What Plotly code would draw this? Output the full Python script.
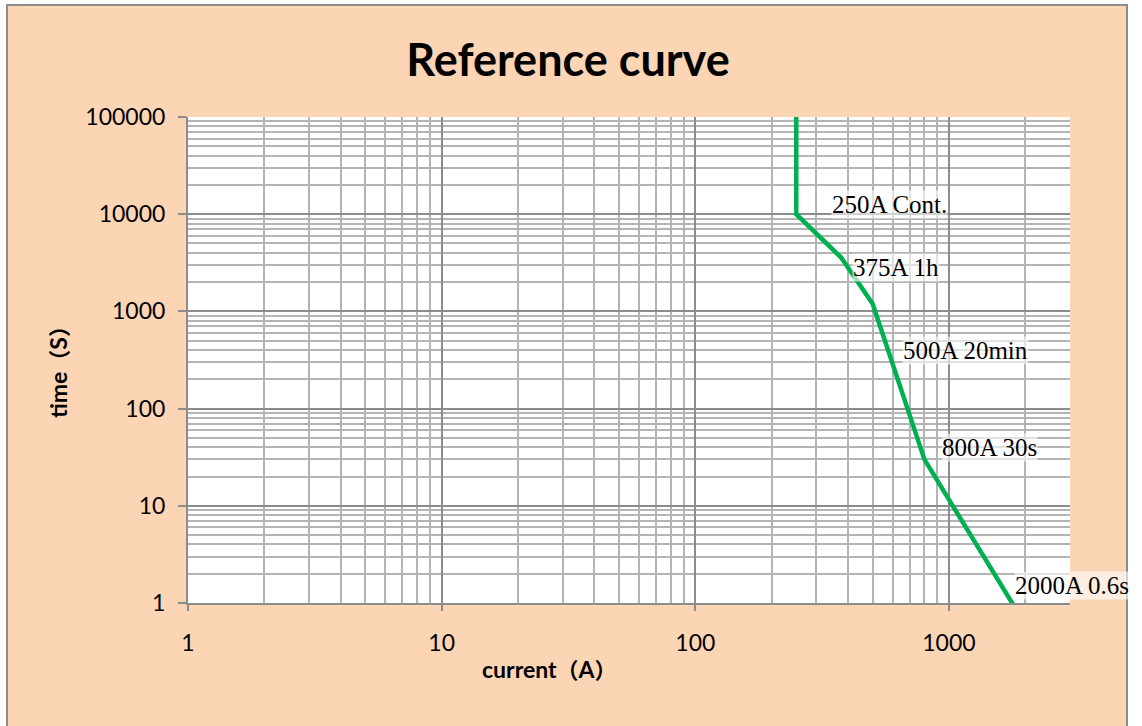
import plotly.graph_objects as go
import math

# ---- data ----
current_A = [250, 250, 375, 500, 800, 2000]
time_s = [100000, 10000, 3600, 1200, 30, 0.6]

label_texts = ["250A Cont.", "375A 1h", "500A 20min", "800A 30s", "2000A 0.6s"]
label_x = [343, 415, 653, 930, 1803]
label_y = [12700, 2800, 400, 40, 1.53]

x_ticks = [1, 10, 100, 1000]
y_ticks = [1, 10, 100, 1000, 10000, 100000]

PEACH = "#FCD5B5"
GRID_MINOR = "#B4B4B4"
GRID_MAJOR = "#8C8C8C"

fig = go.Figure()
fig.add_trace(go.Scatter(
    x=current_A, y=time_s, mode="lines",
    line=dict(color="#00B050", width=4.5),
    showlegend=False, hoverinfo="x+y"))

tickfont = dict(family="Lato", size=23, color="#000000")

fig.update_xaxes(
    type="log", range=[0, math.log10(3000)],
    tickvals=x_ticks, ticktext=[str(v) for v in x_ticks],
    showgrid=True, gridcolor=GRID_MAJOR, gridwidth=1.5,
    minor=dict(dtick="D1", showgrid=True, gridcolor=GRID_MINOR, gridwidth=1.5, ticks=""),
    showline=True, linecolor="#8C8C8C", linewidth=2, mirror=False,
    ticks="outside", ticklen=6, tickcolor="#8C8C8C", tickwidth=2,
    tickfont=tickfont, ticklabelstandoff=12, zeroline=False)
fig.update_yaxes(
    type="log", range=[0, 5],
    tickvals=y_ticks, ticktext=[str(v) for v in y_ticks],
    showgrid=True, gridcolor=GRID_MAJOR, gridwidth=1.5,
    minor=dict(dtick="D1", showgrid=True, gridcolor=GRID_MINOR, gridwidth=1.5, ticks=""),
    showline=True, linecolor="#8C8C8C", linewidth=2, mirror=False,
    ticks="outside", ticklen=8, tickcolor="#8C8C8C", tickwidth=2,
    tickfont=tickfont, ticklabelstandoff=8, zeroline=False)

annotations = []
for t, xv, yv in zip(label_texts, label_x, label_y):
    annotations.append(dict(
        x=math.log10(xv), y=math.log10(yv), xref="x", yref="y",
        text=t, showarrow=False, xanchor="left", yanchor="middle",
        font=dict(family="Liberation Serif", size=25, color="#000000"),
        bgcolor="rgba(255,255,255,0.6)", borderpad=0))

L, R, T, B = 188, 72, 117, 123
W, H = 1142, 726
pw, ph = W - L - R, H - T - B

def px_to_paper(xp, yp):
    return (xp - L) / pw, ((H - yp) - B) / ph

def cjk(s):
    return '<span style="font-family:\'Noto Sans CJK SC\';font-size:22px">' + s + '</span>'

axfont = dict(family="Lato", size=23, color="#000000")
ax_x, ax_y = px_to_paper(549, 668)
annotations.append(dict(
    x=ax_x, y=ax_y, xref="paper", yref="paper",
    text="<b>current" + cjk("（") + "A" + cjk("）") + "</b>",
    xanchor="center", yanchor="middle", showarrow=False, font=axfont))
ay_x, ay_y = px_to_paper(57, 367)
annotations.append(dict(
    x=ay_x, y=ay_y, xref="paper", yref="paper",
    text="<b>time" + cjk("（") + "S" + cjk("）") + "</b>",
    xanchor="center", yanchor="middle", showarrow=False, textangle=-90, font=axfont))

shapes = []
# outer frame
x0, y0 = px_to_paper(7, 5)
x1, y1 = px_to_paper(1127, 730)
shapes.append(dict(type="rect", xref="paper", yref="paper", x0=x0, y0=y1, x1=x1, y1=y0,
                   line=dict(color="#8C8C8C", width=2), fillcolor="rgba(0,0,0,0)", layer="above"))
# white strips outside frame
wx0, wy0 = px_to_paper(0, 0)
wx1, wy1 = px_to_paper(W, H)
shapes.append(dict(type="rect", xref="paper", yref="paper", x0=wx0, x1=x0, y0=wy1, y1=wy0,
                   line=dict(width=0), fillcolor="white", layer="below"))
shapes.append(dict(type="rect", xref="paper", yref="paper", x0=x1, x1=wx1, y0=wy1, y1=wy0,
                   line=dict(width=0), fillcolor="white", layer="below"))
shapes.append(dict(type="rect", xref="paper", yref="paper", x0=wx0, x1=wx1, y0=y0, y1=wy0,
                   line=dict(width=0), fillcolor="white", layer="below"))

fig.update_layout(
    width=W, height=H,
    margin=dict(l=L, r=R, t=T, b=B),
    paper_bgcolor=PEACH, plot_bgcolor="white",
    title=dict(text="<b>Reference curve</b>", x=568 / W, xanchor="center",
               y=1 - 60 / H, yanchor="middle",
               font=dict(family="Lato", size=45, color="#000000")),
    annotations=annotations, shapes=shapes)

fig.write_html("out.html", config={"displayModeBar": False},
               post_script="document.body.style.margin='0';document.body.style.overflow='hidden';")
